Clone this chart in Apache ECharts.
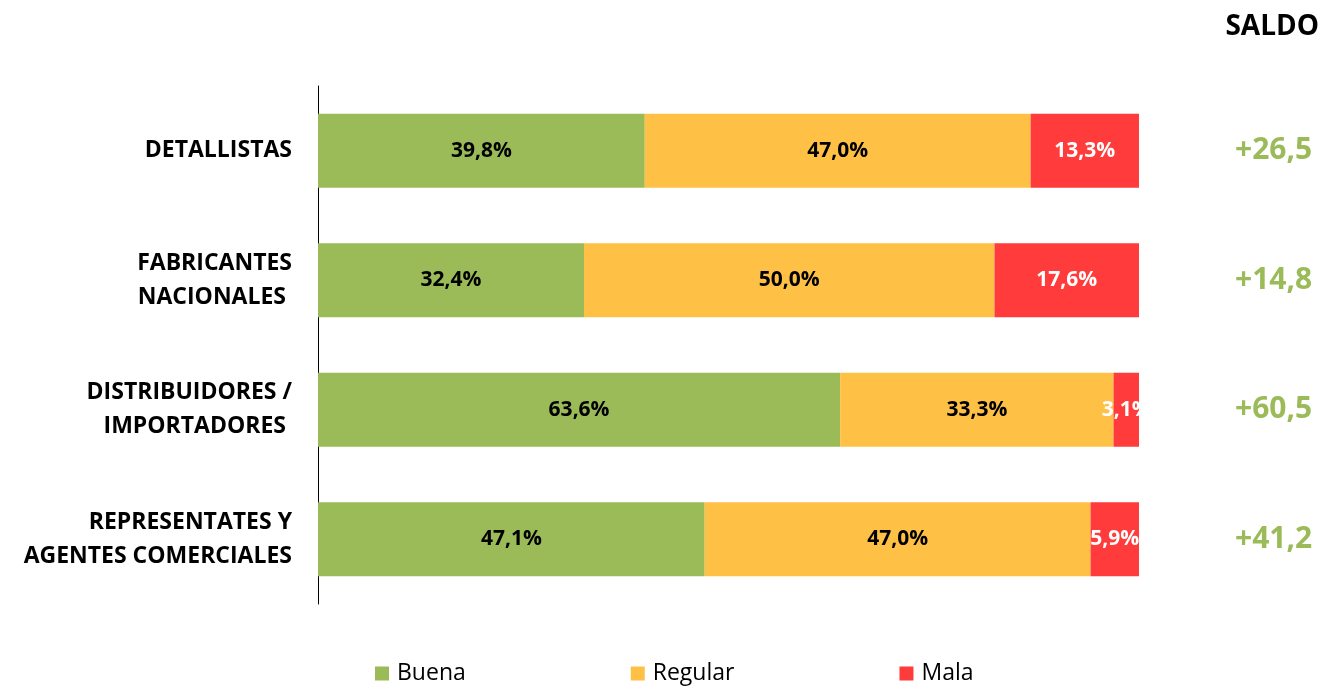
<!DOCTYPE html>
<html><head><meta charset="utf-8">
<script src="https://cdn.jsdelivr.net/npm/echarts@6/dist/echarts.min.js"></script>
<style>html,body{margin:0;padding:0;background:#fff}#c{width:1328px;height:686px}</style>
</head><body><div id="c"></div>
<script>
const categories = ['DETALLISTAS', 'FABRICANTES\nNACIONALES ', 'DISTRIBUIDORES /\nIMPORTADORES ', 'REPRESENTATES Y\nAGENTES COMERCIALES'];
const buena = [39.8, 32.4, 63.6, 47.1];
const regular = [47.0, 50.0, 33.3, 47.0];
const mala = [13.3, 17.6, 3.1, 5.9];
const saldo = ['+26,5', '+14,8', '+60,5', '+41,2'];
const FONT = 'Open Sans';
const fmt = p => p.value.toFixed(1).replace('.', ',') + '%';
const chart = echarts.init(document.getElementById('c'));
function ser(name, data, color, labelColor) {
  return {
    name, type: 'bar', stack: 'total', data, barWidth: '57%',
    itemStyle: { color },
    label: { show: true, position: 'inside', formatter: fmt, color: labelColor,
      fontFamily: FONT, fontWeight: 'bold', fontSize: 21 }
  };
}
chart.setOption({
  animation: false,
  title: { text: 'SALDO', right: 4, top: 8,
    textStyle: { fontFamily: FONT, fontWeight: 'bold', fontSize: 28, color: '#000' } },
  legend: { bottom: -4, left: 370, itemWidth: 14, itemHeight: 14, itemGap: 165, icon: 'rect',
    textStyle: { fontFamily: FONT, fontSize: 23, color: '#000', padding: [0, 0, 0, 3] } },
  grid: { left: 318, right: 189, top: 86, bottom: 82 },
  xAxis: { type: 'value', min: 0, max: 100, show: false },
  yAxis: [{
    type: 'category', data: categories, inverse: true,
    axisLine: { show: true, lineStyle: { color: '#000', width: 1 } },
    axisTick: { show: false },
    axisLabel: { margin: 26, fontFamily: FONT, fontWeight: 'bold', fontSize: 23, color: '#000', lineHeight: 34, align: 'right' }
  }, {
    type: 'category', data: categories, inverse: true, position: 'right',
    axisLine: { show: false }, axisTick: { show: false },
    axisLabel: { margin: 96, formatter: (v, i) => saldo[i], fontFamily: FONT, fontWeight: 'bold', fontSize: 30, color: '#9BBB59' }
  }],
  series: [
    ser('Buena', buena, '#9BBB59', '#000'),
    ser('Regular', regular, '#FFC145', '#000'),
    ser('Mala', mala, '#FF3B3B', '#fff')
  ]
});
</script></body></html>
